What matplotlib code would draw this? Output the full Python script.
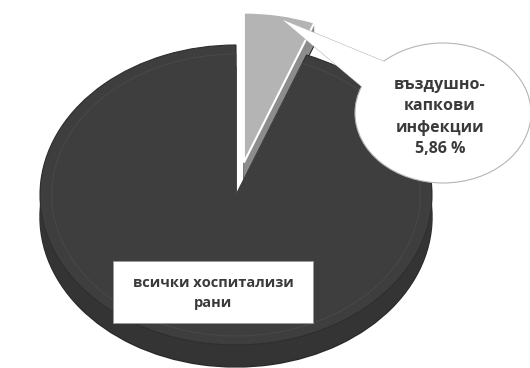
import matplotlib
matplotlib.use('Agg')
import matplotlib.pyplot as plt
from matplotlib.patches import Ellipse, Polygon, Rectangle

# data
labels = ['въздушно-\nкапкови\nинфекции\n5,86 %', 'всички хоспитализи\nрани']
values = [5.86, 94.14]
explode = [0.22, 0.0]

top_colors = ['#b4b4b4', '#3e3e3e']
side_colors = ['#8c8c8c', '#343434']

W, H = 530, 368
fig = plt.figure(figsize=(W / 100, H / 100), dpi=100)

# pie geometry in pixels
cx, cy, rx, ry = 236, 195, 196, 150
depth = 22

pax = fig.add_axes([(cx - rx) / W, 1 - (cy + ry) / H, 2 * rx / W, 2 * ry / H])

def draw_layer(dy, colors, edge, lw, radius=1.0, fill=True):
    wedges, _ = pax.pie(values, explode=explode, colors=colors, startangle=90,
                        counterclock=False, center=(0, dy), radius=radius,
                        wedgeprops=dict(edgecolor=edge, linewidth=lw))
    for w in wedges:
        w.set_clip_on(False)
        if not fill:
            w.set_facecolor('none')
    return wedges

# side of the 3d pie: stacked layers
draw_layer(-depth / ry, side_colors, '#2a2a2a', 1.0)
for k in range(depth - 1, 0, -1):
    draw_layer(-k / ry, side_colors, 'none', 0)
top = draw_layer(0, top_colors, '#2e2e2e', 0.8)
top[0].set_edgecolor('white')
top[0].set_linewidth(1.5)
# faint bevel line on the top face
bevel = draw_layer(0, top_colors, '#494949', 0.7, radius=0.94, fill=False)
bevel[0].set_edgecolor('none')

pax.set_aspect('auto')
pax.set_xlim(-1, 1)
pax.set_ylim(-1, 1)
pax.axis('off')

# overlay axes in pixel coordinates for the labels
ax = fig.add_axes([0, 0, 1, 1])
ax.set_xlim(0, W)
ax.set_ylim(H, 0)
ax.axis('off')

font = ['Open Sans', 'DejaVu Sans']

# callout bubble for the small slice
ptr = [(283, 20), (385, 62), (366, 90)]
ax.add_patch(Polygon(ptr, closed=True, facecolor='white', edgecolor='#b5b5b5', lw=0.8))
ax.add_patch(Ellipse((443, 113), 176, 140, facecolor='white', edgecolor='#b5b5b5', lw=0.8))
ax.add_patch(Polygon(ptr, closed=True, facecolor='white', edgecolor='none', lw=0))
ax.text(440, 117, labels[0], ha='center', va='center', multialignment='center',
        fontsize=11.5, fontweight='bold', color='#3a3a3a', family=font,
        linespacing=1.45)

# label box for the big slice
ax.add_patch(Rectangle((113, 261), 200, 62, facecolor='white', edgecolor='#999999', lw=0.6))
ax.text(213, 293, labels[1], ha='center', va='center', multialignment='center',
        fontsize=10.5, fontweight='bold', color='#3a3a3a', family=font,
        linespacing=1.5)

fig.savefig('out.png', dpi=100)
